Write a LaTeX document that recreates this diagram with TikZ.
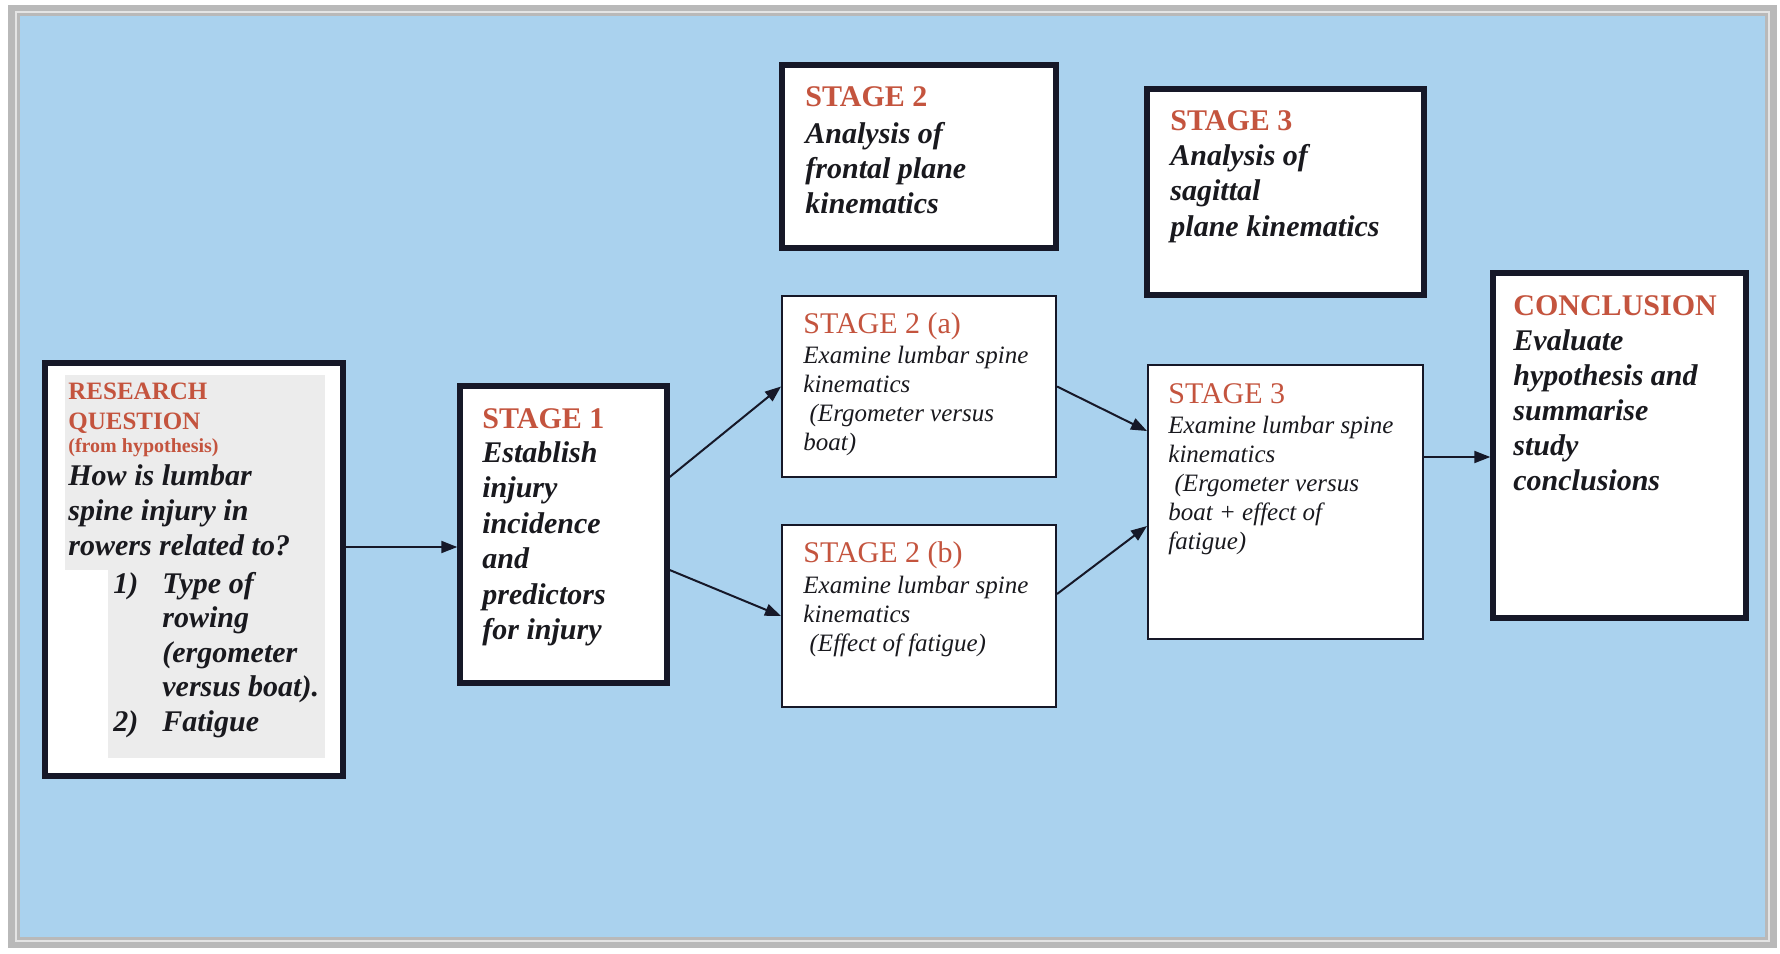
\documentclass[tikz,border=0pt]{standalone}
\usepackage{fontspec}
\setmainfont{Liberation Serif}
\usetikzlibrary{arrows.meta}
\definecolor{bgblue}{RGB}{170,210,238}
\definecolor{framegray}{RGB}{185,185,185}
\definecolor{framelight}{RGB}{228,228,228}
\definecolor{titlered}{RGB}{196,84,62}
\definecolor{navy}{RGB}{22,24,40}
\definecolor{txtblack}{RGB}{25,25,30}
\definecolor{hlgray}{RGB}{236,236,236}
\newcommand{\ml}[1]{\begin{tabular}[t]{@{}l@{}}#1\end{tabular}}
\tikzset{
  dbox/.style={draw=navy, line width=1.7pt, fill=white, inner sep=0pt},
  sbox/.style={draw=navy, line width=1pt, fill=white, inner sep=0pt},
  innerline/.style={draw=navy, line width=0.9pt},
  ttl/.style={anchor=base west, inner sep=0pt, text=titlered, font=\fontsize{15}{17}\selectfont\bfseries},
  ttlreg/.style={anchor=base west, inner sep=0pt, text=titlered, font=\fontsize{15}{17}\selectfont},
  bodybi/.style={anchor=base west, inner sep=0pt, text=txtblack, font=\fontsize{15}{17.5}\selectfont\bfseries\itshape},
  bodyi/.style={anchor=base west, inner sep=0pt, text=txtblack, font=\fontsize{12.5}{14.6}\selectfont\itshape},
  arr/.style={-{Triangle[length=8pt,width=6pt]}, line width=1pt, draw=navy},
}
\begin{document}
\begin{tikzpicture}[x=0.5pt,y=-0.5pt]
\useasboundingbox (0,0) rectangle (1780,953);
% frame and background
\fill[white] (0,0) rectangle (1780,953);
\fill[framegray] (8,5) rectangle (1777,948);
\fill[framelight] (15,11) rectangle (1770,942);
\fill[framegray] (17,13) rectangle (1768,940);
\fill[bgblue] (20,16) rectangle (1765,937);

% boxes
\node[dbox, minimum width=150pt, minimum height=207.5pt] (r) at (194,569.5) {};
\node[dbox, minimum width=104.5pt, minimum height=149.5pt] (s1) at (563.5,534.5) {};
\node[dbox, minimum width=138pt, minimum height=92.5pt] (s2top) at (919,156.5) {};
\node[dbox, minimum width=139.5pt, minimum height=104pt] (s3top) at (1285.5,192) {};
\node[sbox, minimum width=137pt, minimum height=90.5pt] (s2a) at (919,386.5) {};
\node[sbox, minimum width=137pt, minimum height=91pt] (s2b) at (919,616) {};
\node[sbox, minimum width=137.5pt, minimum height=137pt] (s3) at (1285.5,502) {};
\node[dbox, minimum width=127.5pt, minimum height=173.5pt] (c) at (1619.5,445.5) {};

\foreach \b in {r,s1,s2top,s3top,c}{
  \draw[innerline] ([shift={(2.4pt,-2.4pt)}]\b.north west) rectangle ([shift={(-2.4pt,2.4pt)}]\b.south east);
}

% highlight in research box
\fill[hlgray] (65,375) rectangle (325,570);
\fill[hlgray] (108,570) rectangle (325,758);

% texts
\node[ttl, font=\fontsize{12.5}{15}\selectfont\bfseries] (rt) at (68,399) {\ml{RESEARCH\\QUESTION}};
\node[ttl, font=\fontsize{10}{12}\selectfont\bfseries] (rh) at (68,452) {(from hypothesis)};
\node[bodybi] (rb) at (68,485) {\ml{How is lumbar\\spine injury in\\rowers related to?}};
\node[bodybi, font=\fontsize{15}{17.25}\selectfont\bfseries\itshape] (rl) at (113,593) {\ml{\makebox[24.5pt][l]{1)}Type of\\\hspace*{24.5pt}rowing\\\hspace*{24.5pt}(ergometer\\\hspace*{24.5pt}versus boat).\\\makebox[24.5pt][l]{2)}Fatigue}};

\node[ttl] (s1t) at (482,428) {STAGE 1};
\node[bodybi, font=\fontsize{15}{17.75}\selectfont\bfseries\itshape] (s1b) at (482,462) {\ml{Establish\\injury\\incidence\\and\\predictors\\for injury}};

\node[ttl] (s2tt) at (805,106) {STAGE 2};
\node[bodybi] (s2tb) at (805,143) {\ml{Analysis of\\frontal plane\\kinematics}};

\node[ttl] (s3tt) at (1170,130) {STAGE 3};
\node[bodybi, font=\fontsize{15}{17.75}\selectfont\bfseries\itshape] (s3tb) at (1170,165) {\ml{Analysis of\\sagittal\\plane kinematics}};

\node[ttl] (ct) at (1513,315) {CONCLUSION};
\node[bodybi] (cb) at (1513,350) {\ml{Evaluate\\hypothesis and\\summarise\\study\\conclusions}};

\node[ttlreg] (s2at) at (803,333) {STAGE 2 (a)};
\node[bodyi] (s2ab) at (803,363) {\ml{Examine lumbar spine\\kinematics\\\ (Ergometer versus\\boat)}};

\node[ttlreg] (s2bt) at (803,562) {STAGE 2 (b)};
\node[bodyi] (s2bb) at (803,593) {\ml{Examine lumbar spine\\kinematics\\\ (Effect of fatigue)}};

\node[ttlreg] (s3t) at (1168,403) {STAGE 3};
\node[bodyi] (s3b) at (1168,433) {\ml{Examine lumbar spine\\kinematics\\\ (Ergometer versus\\boat + effect of\\fatigue)}};

% connectors
\coordinate (a1) at ([yshift=11.25pt]r.east);
\draw[arr] (a1) -- (a1 -| s1.west);
\draw[arr] ([yshift=28.75pt]s1.east) -- (s2a.west);
\draw[arr] ([yshift=-17.75pt]s1.east) -- (s2b.west);
\draw[arr] (s2a.east) -- ([yshift=35.5pt]s3.west);
\draw[arr] ([yshift=11pt]s2b.east) -- ([yshift=-12pt]s3.west);
\coordinate (a6) at ([yshift=22.5pt]s3.east);
\draw[arr] (a6) -- (a6 -| c.west);
\end{tikzpicture}
\end{document}
